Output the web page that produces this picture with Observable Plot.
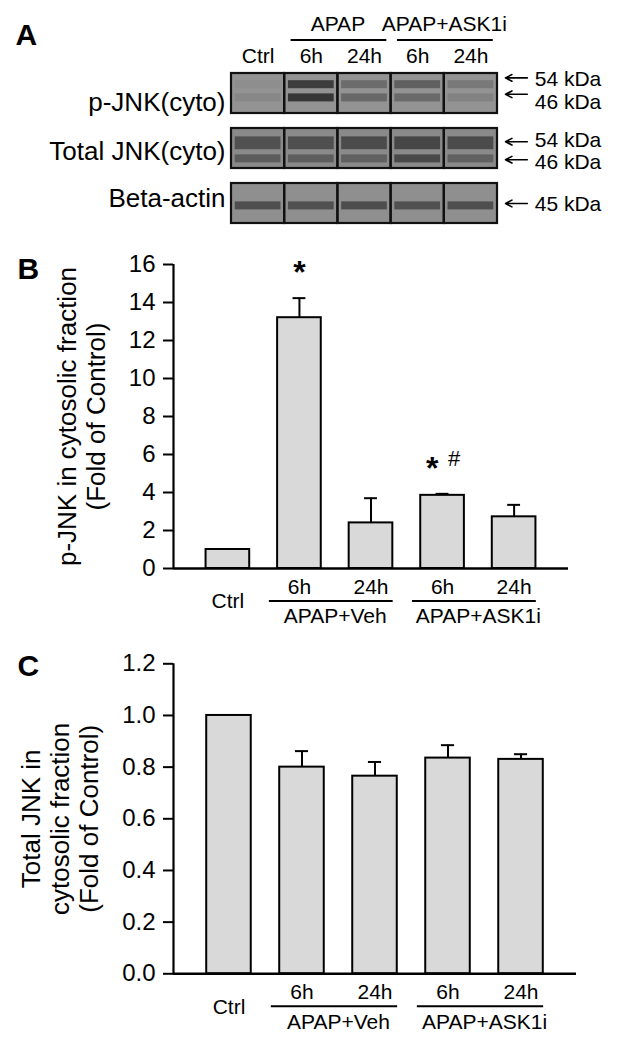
<!DOCTYPE html>
<html><head><meta charset="utf-8">
<script src="https://cdn.jsdelivr.net/npm/d3@7"></script>
<script src="https://cdn.jsdelivr.net/npm/@observablehq/plot@0.6"></script>
<style>
html,body{margin:0;padding:0;background:#fff;}
#chart{width:624px;}
#chart svg{display:block;}
</style></head><body><div id="chart"></div>
<script>
// ================= DATA =================
// Panel A: western blot (band intensities 0..1 per lane)
const laneLabels = ["Ctrl", "6h", "24h", "6h", "24h"];
const blotRows = ["p-JNK(cyto)", "Total JNK(cyto)", "Beta-actin"];
const blotGroups = ["APAP", "APAP+ASK1i"];
const blotGroupSpans = [[1, 2], [3, 4]];
const pJnk54 = [0.06, 0.85, 0.38, 0.50, 0.26];
const pJnk46 = [0.12, 0.90, 0.42, 0.40, 0.16];
const tJnk54 = [0.62, 0.64, 0.68, 0.74, 0.68];
const tJnk46 = [0.50, 0.48, 0.45, 0.70, 0.45];
const actin45 = [0.66, 0.64, 0.68, 0.64, 0.66];
const markerLabels = ["54 kDa", "46 kDa", "54 kDa", "46 kDa", "45 kDa"];
const markerRows = [0, 0, 1, 1, 2];

// Panels B and C: bar charts
const categories = ["Ctrl", "APAP+Veh 6h", "APAP+Veh 24h", "APAP+ASK1i 6h", "APAP+ASK1i 24h"];
const timeLabels = ["Ctrl", "6h", "24h", "6h", "24h"];
const treatGroups = ["APAP+Veh", "APAP+ASK1i"];
const treatSpans = [[1, 2], [3, 4]];
const pJnkMean = [1.0, 13.2, 2.4, 3.85, 2.72];
const pJnkSem = [0, 1.03, 1.3, 0.08, 0.63];
const pJnkTicks = [0, 2, 4, 6, 8, 10, 12, 14, 16];
const pJnkStar = [false, true, false, true, false];
const pJnkHash = [false, false, false, true, false];
const tJnkMean = [1.0, 0.80, 0.765, 0.835, 0.83];
const tJnkSem = [0, 0.062, 0.055, 0.05, 0.02];
const tJnkTicks = [0, 0.2, 0.4, 0.6, 0.8, 1.0, 1.2];

// ================= STYLE / LAYOUT =================
const FONT = "'Liberation Sans', Arial, Helvetica, sans-serif";
const rowBg = {"p-JNK(cyto)": "#939393", "Total JNK(cyto)": "#8a8a8a", "Beta-actin": "#8f8f8f"};
const bandColor = "#2e2e2e";
// vertical position (0 = top of blot, 1 = bottom) and half thickness of each band
const bandLayout = {
  "p-JNK(cyto)": {"54": [0.28, 0.1], "46": [0.61, 0.1]},
  "Total JNK(cyto)": {"54": [0.37, 0.16], "46": [0.76, 0.1]},
  "Beta-actin": {"45": [0.56, 0.1]}
};
const rowLabelY = {"p-JNK(cyto)": 0.74, "Total JNK(cyto)": 0.575, "Beta-actin": 0.39};
const markerArrowY = [0.11, 0.52, 0.33, 0.78, 0.5];
const markerTextY = [0.15, 0.72, 0.30, 0.85, 0.53];

const chart = document.getElementById("chart");

// ================= PANEL A =================
const laneCells = blotRows.flatMap(row => laneLabels.map((t, i) => ({row, i})));
const bands = [];
laneLabels.forEach((t, i) => {
  bands.push({row: blotRows[0], kda: "54", lane: i, v: pJnk54[i]});
  bands.push({row: blotRows[0], kda: "46", lane: i, v: pJnk46[i]});
  bands.push({row: blotRows[1], kda: "54", lane: i, v: tJnk54[i]});
  bands.push({row: blotRows[1], kda: "46", lane: i, v: tJnk46[i]});
  bands.push({row: blotRows[2], kda: "45", lane: i, v: actin45[i]});
});
const laneHeader = laneLabels.map((t, i) => ({t, i}));
const groupHeader = blotGroups.map((g, k) => ({g, s: blotGroupSpans[k][0], e: blotGroupSpans[k][1]}));
const markers = markerLabels.map((label, k) => ({label, row: blotRows[markerRows[k]], k}));
const topRow = () => blotRows[0];

const plotA = Plot.plot({
  width: 624, height: 240,
  marginLeft: 231, marginRight: 127, marginTop: 72.7, marginBottom: 16.7,
  x: {domain: [0, 5], axis: null},
  y: {domain: [0, 1], reverse: true, axis: null},
  fy: {domain: blotRows, axis: null, paddingInner: 0.277, paddingOuter: 0},
  color: {type: "identity"},
  opacity: {type: "identity"},
  style: {fontFamily: FONT, color: "#000", background: "#fff", overflow: "visible"},
  marks: [
    Plot.rect(laneCells, {x1: "i", x2: d => d.i + 1, y1: 0, y2: 1, fy: "row", fill: d => rowBg[d.row]}),
    Plot.rect(bands, {
      x1: d => d.lane + 0.07, x2: d => d.lane + 0.93,
      y1: d => bandLayout[d.row][d.kda][0] - bandLayout[d.row][d.kda][1],
      y2: d => bandLayout[d.row][d.kda][0] + bandLayout[d.row][d.kda][1],
      fy: "row", fill: bandColor, fillOpacity: "v", ariaLabel: "bands"
    }),
    Plot.rect(laneCells, {x1: "i", x2: d => d.i + 1, y1: 0, y2: 1, fy: "row", fill: "none", stroke: "#111", strokeWidth: 2.2}),
    Plot.text(blotRows, {fy: d => d, x: 0, y: d => rowLabelY[d], text: d => d, textAnchor: "end", lineAnchor: "middle", dx: -6, fontSize: 26}),
    Plot.text(laneHeader, {fy: topRow, x: d => d.i + 0.5, y: -0.44, text: "t", lineAnchor: "middle", fontSize: 21}),
    Plot.ruleY(groupHeader, {fy: topRow, x1: d => d.s + 0.12, x2: d => d.e + 0.92, y: -0.84, stroke: "#000", strokeWidth: 2}),
    Plot.text(groupHeader, {fy: topRow, x: d => (d.s + d.e + 1) / 2, y: -1.23, text: "g", lineAnchor: "middle", fontSize: 21}),
    Plot.arrow(markers, {fy: "row", x1: 5.56, x2: 5.15, y1: d => markerArrowY[d.k], y2: d => markerArrowY[d.k], stroke: "#000", strokeWidth: 1.6, headLength: 7, headAngle: 55}),
    Plot.text(markers, {fy: "row", x: 5.7, y: d => markerTextY[d.k], text: "label", textAnchor: "start", lineAnchor: "middle", fontSize: 21}),
    Plot.text(["A"], {fy: topRow, frameAnchor: "top-left", dx: -216, dy: -38.6, text: d => d, textAnchor: "start", lineAnchor: "middle", fontSize: 30, fontWeight: "bold"})
  ]
});
d3.select(plotA).selectAll('g[aria-label="bands"]').style("filter", "blur(2.8px)");
chart.appendChild(plotA);

// ================= BAR PANELS =================
function barPanel({means, sems, ticks, fmt, yMax, height, top, bottom, right, yTitle, titleDx, titleLH, letter, letterDy, star, hash}) {
  const data = categories.map((c, i) => ({c, i, t: timeLabels[i], mean: means[i], sem: sems[i]}));
  const withErr = data.filter(d => d.sem > 0);
  const grouped = new Set(treatSpans.flatMap(([s, e]) => d3.range(s, e + 1)));
  const groups = treatGroups.map((g, k) => ({g, s: treatSpans[k][0], e: treatSpans[k][1]}));
  const xDom = [-0.76, 4.76];
  const marks = [
    Plot.rect(data, {x1: d => d.i - 0.305, x2: d => d.i + 0.305, y1: 0, y2: "mean", fill: "#d9d9d9", stroke: "#000", strokeWidth: 2}),
    Plot.ruleX(withErr, {x: "i", y1: "mean", y2: d => d.mean + d.sem, stroke: "#000", strokeWidth: 2}),
    Plot.ruleY(withErr, {x1: d => d.i - 0.09, x2: d => d.i + 0.09, y: d => d.mean + d.sem, stroke: "#000", strokeWidth: 2}),
    Plot.axisY(ticks, {tickSize: 10, tickPadding: 8, fontSize: 24, strokeWidth: 2, tickFormat: fmt, label: null}),
    Plot.ruleX([xDom[0]], {stroke: "#000", strokeWidth: 2.2}),
    Plot.ruleY([0], {stroke: "#000", strokeWidth: 2.5}),
    Plot.text(data.filter(d => grouped.has(d.i)), {x: "i", y: 0, dy: 18.3, text: "t", lineAnchor: "middle", fontSize: 21}),
    Plot.text(data.filter(d => !grouped.has(d.i)), {x: "i", y: 0, dy: 33, text: "t", lineAnchor: "middle", fontSize: 21}),
    Plot.ruleY(groups, {x1: d => d.s - 0.42, x2: d => d.e + 0.31, y: 0, dy: 32.5, stroke: "#000", strokeWidth: 2}),
    Plot.text(groups, {x: d => (d.s + d.e) / 2, y: 0, dy: 48, text: "g", lineAnchor: "middle", fontSize: 21}),
    Plot.text([yTitle], {frameAnchor: "left", dx: titleDx, rotate: -90, text: d => d, textAnchor: "middle", lineAnchor: "middle", fontSize: 26, lineHeight: titleLH}),
    Plot.text([letter], {frameAnchor: "top-left", dx: -156, dy: letterDy, text: d => d, textAnchor: "start", lineAnchor: "middle", fontSize: 30, fontWeight: "bold"})
  ];
  if (star) {
    const sd = data.filter(d => star[d.i]);
    marks.push(Plot.text(sd, {x: d => d.i - (hash[d.i] ? 0.145 : 0), y: d => d.mean + d.sem, dy: -25, text: () => "*", lineAnchor: "middle", fontSize: 32, fontWeight: "bold"}));
    marks.push(Plot.text(data.filter(d => hash[d.i]), {x: d => d.i + 0.16, y: d => d.mean + d.sem, dy: -35, text: () => "#", lineAnchor: "middle", fontSize: 22}));
  }
  return Plot.plot({
    width: 624, height,
    marginLeft: 173, marginRight: right, marginTop: top, marginBottom: bottom,
    x: {domain: xDom, axis: null},
    y: {domain: [0, yMax], axis: null},
    style: {fontFamily: FONT, color: "#000", background: "#fff", overflow: "visible"},
    marks
  });
}

chart.appendChild(barPanel({
  means: pJnkMean, sems: pJnkSem, ticks: pJnkTicks, fmt: d3.format("d"), yMax: 16,
  height: 400, top: 24, bottom: 72, right: 56,
  yTitle: "p-JNK in cytosolic fraction\n(Fold of Control)", titleDx: -92, titleLH: 1.08,
  letter: "B", letterDy: 4.6, star: pJnkStar, hash: pJnkHash
}));

chart.appendChild(barPanel({
  means: tJnkMean, sems: tJnkSem, ticks: tJnkTicks, fmt: d3.format(".1f"), yMax: 1.2,
  height: 402, top: 23.3, bottom: 68.7, right: 48,
  yTitle: "Total JNK in\ncytosolic fraction\n(Fold of Control)", titleDx: -114, titleLH: 1.13,
  letter: "C", letterDy: 2.8, star: null, hash: null
}));
</script>
</body></html>
